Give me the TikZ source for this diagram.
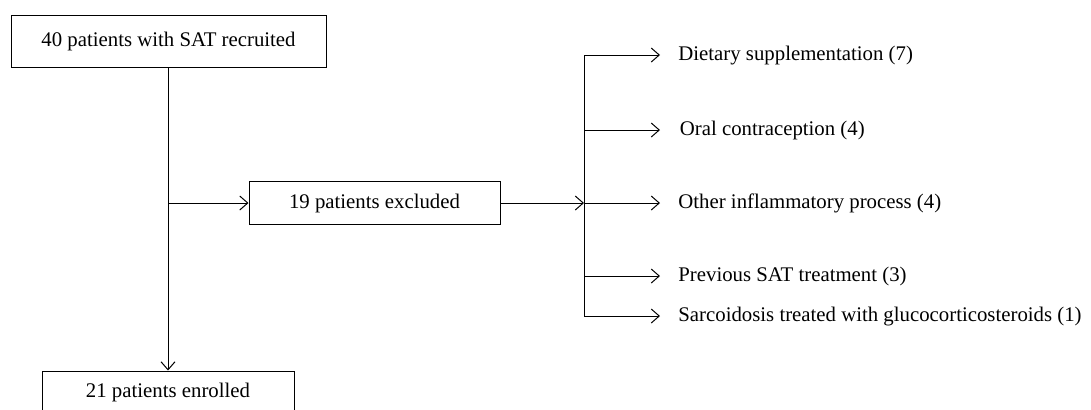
\documentclass[tikz,border=0pt]{standalone}
\usepackage{fontspec}
\setmainfont{Liberation Serif}
\usetikzlibrary{arrows.meta}
\tikzset{
  box/.style={draw,rectangle,inner sep=0pt,line width=0.5pt},
  reason/.style={anchor=west,inner xsep=9pt,inner ysep=0pt},
  arr/.style={-{Straight Barb[length=4pt,width=7pt]},line width=0.5pt}
}
\begin{document}
\begin{tikzpicture}[x=0.5pt,y=-0.5pt,font=\fontsize{10.4}{12}\selectfont]
				\useasboundingbox (0,0) rectangle (1091,409);
				\node[box,minimum width=157.5pt,minimum height=26pt] (recruit) at (168.5,41) {40 patients with SAT recruited};
				\node[box,minimum width=125.5pt,minimum height=21.5pt] (excluded) at (374.5,203) {19 patients excluded};
				\node[box,minimum width=126pt,minimum height=21.5pt] (enrolled) at (168,392.5) {21 patients enrolled};
				
				\coordinate (split) at (168,203);
				\coordinate (fork) at (584,203);
				\coordinate (forktop) at (584,55);
				\coordinate (forkbot) at (584,316);
				
				\node[reason] (diet) at (660,56) {Dietary supplementation (7)};
				\node[reason] (oral) at (661.5,130) {Oral contraception (4)};
				\node[reason] (infl) at (660,203) {Other inflammatory process (4)};
				\node[reason] (prev) at (660,276) {Previous SAT treatment (3)};
				\node[reason] (sarc) at (660,317) {Sarcoidosis treated with glucocorticosteroids (1)};
				
				\draw[arr] (recruit.south -| enrolled.north) -- (enrolled.north);
				\draw[arr] (split) -- (excluded.west);
				\draw[arr] (excluded.east) -- (fork);
				\draw[line width=0.5pt] (forktop) -- (forkbot);
				\draw[arr] (forktop) -- (diet.west |- forktop);
				\draw[arr] (forktop |- oral.west) -- (diet.west |- oral.west);
				\draw[arr] (fork) -- (diet.west |- fork);
				\draw[arr] (forktop |- prev.west) -- (diet.west |- prev.west);
				\draw[arr] (forkbot) -- (diet.west |- forkbot);
			\end{tikzpicture}
\end{document}
